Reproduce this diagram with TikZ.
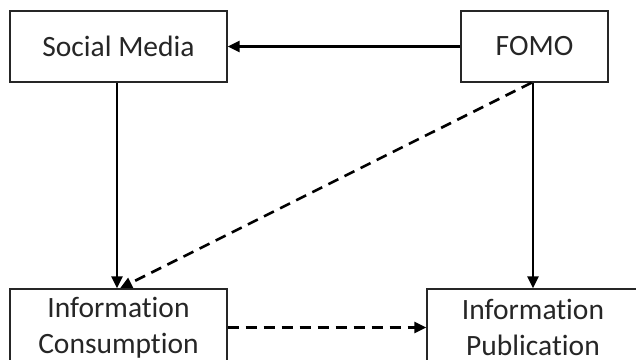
\documentclass[tikz,border=0pt]{standalone}
\usepackage{fontspec}
\setmainfont{Carlito}[Ligatures={NoCommon}]
\usetikzlibrary{arrows.meta}
\begin{document}
\begin{tikzpicture}[x=1pt,y=-1pt,
  box/.style={draw=black!85, line width=1.4pt, fill=white, inner sep=0pt,
    minimum height=71pt, align=center,
    font=\fontsize{29.5}{36}\selectfont, text=black!85},
  conn/.style={line width=2.6pt, -{Triangle[length=12pt,width=11pt]}},
  dashconn/.style={conn, dash pattern=on 11pt off 7pt}]
\useasboundingbox (0,0) rectangle (636,359);
\clip (0,0) rectangle (636,359);
\node[box, minimum width=217pt] (sm) at (118.5,46.5) {Social Media};
\node[box, minimum width=147pt] (fomo) at (534.5,46.5) {FOMO};
\node[box, minimum width=217pt, minimum height=77pt] (ic) at (118.5,327.5) {Information\\Consumption};
\node[box, minimum width=212pt, minimum height=77pt] (ip) at (533,327.5) {Information\\Publication};
\draw[conn] (fomo.west) -- (sm.east);
\draw[conn] ([xshift=-1.5pt]sm.south) -- ([xshift=-1.5pt]ic.north);
\draw[conn] (ip.north |- fomo.south) -- (ip.north);
\draw[dashconn] ([xshift=-3pt]fomo.south) -- ([xshift=1.5pt]ic.north);
\draw[dashconn] (ic.east) -- (ip.west);
\end{tikzpicture}
\end{document}
